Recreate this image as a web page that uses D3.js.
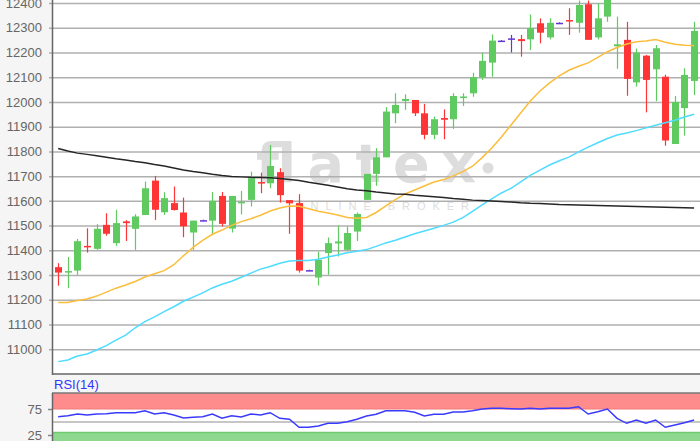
<!DOCTYPE html>
<meta charset="utf-8">
<style>
body { margin: 0; background: #f5f5f5; font: 13px Arial, "Liberation Sans", sans-serif; }
.grid line { stroke: #b0b0b0; stroke-width: 1.5; }
.grid path { display: none; }
.grid text, .rsiaxis text { fill: #666; font-size: 13px; font-family: Arial, "Liberation Sans", sans-serif; }
.rsiaxis line { stroke: #888; stroke-width: 1.5; }
.rsiaxis path { display: none; }
.ma { fill: none; stroke-width: 1.5; }
</style>
<body>
<script src="https://cdn.jsdelivr.net/npm/d3@7"></script>
<script>
// candle values, one per trading day
var opens  = [11332,11312,11318,11418,11406,11503,11429,11517,11487,11543,11682,11554,11591,11553,11472,11522,11520,11620,11488,11590,
              11604,11676,11671,11716,11603,11591,11320,11290,11389,11428,11402,11476,11604,11709,11776,11954,12004,12008,11954,11867,
              11935,11930,12017,12035,12100,12159,12248,12257,12254,12253,12318,12261,12320,12331,12320,12395,12261,12345,12225,12251,
              12079,12187,12132,12102,11830,11975,12085];
var highs  = [11348,11373,11446,11489,11506,11550,11564,11522,11546,11678,11701,11635,11658,11613,11520,11524,11636,11636,11620,11640,
              11718,11714,11826,11732,11603,11627,11322,11395,11452,11500,11496,11553,11709,11813,11979,12035,12031,12008,11992,11941,
              11970,12035,12035,12118,12199,12273,12250,12271,12271,12354,12338,12338,12322,12379,12410,12410,12400,12440,12345,12324,
              12216,12190,12230,12110,12024,12136,12324];
var lows   = [11257,11247,11301,11391,11402,11459,11418,11438,11402,11543,11523,11543,11561,11453,11402,11520,11461,11496,11472,11545,
              11577,11631,11651,11593,11467,11310,11318,11258,11301,11375,11398,11438,11604,11661,11776,11914,11968,11943,11849,11849,
              11849,11891,11984,12021,12089,12102,12246,12200,12183,12210,12237,12253,12318,12271,12280,12251,12253,12324,12134,12025,
              12062,11958,12003,11823,11830,11864,12028];
var closes = [11310,11316,11437,11412,11487,11467,11510,11510,11537,11651,11564,11611,11563,11497,11520,11522,11600,11507,11620,11596,
              11692,11672,11741,11623,11590,11318,11320,11362,11429,11436,11470,11547,11709,11776,11961,11988,12012,11954,11867,11930,
              11928,12024,12022,12100,12166,12248,12248,12257,12246,12298,12280,12320,12320,12325,12392,12251,12338,12430,12233,12093,
              12200,12089,12217,11844,12000,12109,12287];

// moving averages (orange, light blue, black)
var maShort = [11189,11189,11197,11203,11215,11231,11247,11260,11274,11292,11305,11318,11342,11378,11412,11440,11465,11482,11501,11516,
               11528,11542,11559,11571,11579,11578,11568,11558,11551,11543,11533,11530,11533,11553,11580,11605,11628,11644,11660,11676,
               11686,11701,11718,11740,11775,11814,11858,11907,11955,12004,12044,12077,12105,12128,12144,12158,12180,12203,12220,12234,
               12243,12246,12252,12241,12233,12229,12228];
var maMid   = [10950,10957,10973,10981,10997,11015,11037,11057,11087,11112,11131,11152,11172,11194,11211,11228,11248,11263,11275,11291,
               11308,11324,11335,11348,11357,11359,11359,11364,11373,11381,11390,11396,11403,11416,11430,11441,11454,11467,11478,11489,
               11501,11514,11532,11558,11584,11608,11632,11651,11677,11703,11724,11745,11762,11777,11798,11817,11835,11852,11866,11874,
               11884,11895,11906,11916,11926,11939,11950];
var maLong  = [11812,11802,11793,11788,11782,11776,11770,11765,11759,11754,11747,11741,11733,11725,11719,11714,11708,11703,11699,11697,
               11695,11694,11693,11690,11686,11682,11675,11669,11663,11656,11649,11644,11641,11636,11632,11628,11627,11623,11620,11617,
               11614,11610,11607,11603,11601,11599,11597,11595,11592,11590,11589,11587,11585,11584,11583,11582,11581,11580,11579,11578,
               11577,11576,11575,11574,11573,11572,11571];

// RSI(14)
var rsi = [60.2,62.1,65.4,63.5,65.4,66,67.9,67.9,67.9,71.7,65.4,67.9,63.5,57.7,59,60.2,65.4,57.1,62.1,59.6,
           65.4,63.5,67.9,57.1,55.2,39.8,39.8,42.3,47.5,47.5,50.6,55.2,61.5,64.8,71.7,71.7,71.7,68.7,61.5,64.8,
           64.8,69.2,69.2,71.7,75,76.3,76.3,75.6,75,76.3,75,76.3,76.3,76.3,79.4,65.4,69.8,75,57.1,47.5,
           53.8,47.5,53.8,39.8,44.2,48.7,53.8];

var priceTicks = [11000,11100,11200,11300,11400,11500,11600,11700,11800,11900,12000,12100,12200,12300,12400];
var rsiTicks = [75, 25];
var rsiMid = 50, rsiHigh = 75, rsiLow = 30;

// layout
var W = 700, H = 441;
var left = 53, right = 700, mainTop = 0, mainBottom = 374;
var rsiTop = 393, rsiBottom = 441;

var svg = d3.select("body").append("svg")
    .attr("width", W)
    .attr("height", H)
    .style("display", "block");

svg.append("defs").append("clipPath").attr("id", "mainclip")
  .append("rect").attr("x", left).attr("y", mainTop)
    .attr("width", right - left).attr("height", mainBottom - mainTop);

// scales
var idx = d3.range(opens.length);
var x = d3.scaleBand().domain(idx).range([52, 700.3]).padding(0.28);
var cx = function(i) { return x(i) + x.bandwidth() / 2; };
var y = d3.scaleLinear().domain([10900, 12400]).range([mainBottom, 3]);
var ry = d3.scaleLinear().domain([25, 75]).range([435, 409]);

// panel backgrounds
svg.append("rect").attr("x", left).attr("y", mainTop)
    .attr("width", right - left).attr("height", mainBottom - mainTop).attr("fill", "#fff");
svg.append("rect").attr("x", left).attr("y", rsiTop)
    .attr("width", right - left).attr("height", rsiBottom - rsiTop).attr("fill", "#fff");

// watermark
var wm = svg.append("g").attr("fill", "#dddddd");
wm.append("text")
    .attr("x", 256).attr("y", 182)
    .attr("textLength", 220).attr("lengthAdjust", "spacing")
    .style("font-family", "'DejaVu Sans', sans-serif")
    .style("font-weight", "bold")
    .style("font-size", "54px")
    .text("flatex");
wm.append("circle").attr("cx", 488).attr("cy", 168).attr("r", 5.5);
wm.append("text")
    .attr("x", 295).attr("y", 210)
    .attr("textLength", 174).attr("lengthAdjust", "spacing")
    .style("font-family", "Arial, sans-serif")
    .style("font-size", "11px")
    .text("ONLINE BROKER");

// gridlines + price labels
svg.append("g")
    .attr("class", "grid")
    .attr("transform", "translate(49,0)")
    .call(d3.axisLeft(y).tickValues(priceTicks).tickSize(-(right - 49)).tickPadding(7).tickFormat(d3.format("d")));

// candles
var plot = svg.append("g").attr("clip-path", "url(#mainclip)");
var colorOf = function(i) {
  if (closes[i] > opens[i]) return "#5fca5f";
  if (closes[i] < opens[i]) return "#ff3535";
  return "#6236d6";
};
var candle = plot.selectAll(".candle")
    .data(idx)
  .enter().append("g")
    .attr("class", "candle");
candle.append("line")
    .attr("x1", function(i) { return Math.round(cx(i)) + 0.5; })
    .attr("x2", function(i) { return Math.round(cx(i)) + 0.5; })
    .attr("y1", function(i) { return y(highs[i]); })
    .attr("y2", function(i) { return y(lows[i]); })
    .attr("stroke", colorOf)
    .attr("stroke-width", 1.2);
candle.append("rect")
    .attr("x", function(i) { return Math.round(cx(i)) + 0.5 - 3.5; })
    .attr("width", 7)
    .attr("y", function(i) { return y(Math.max(opens[i], closes[i])); })
    .attr("height", function(i) { return Math.max(1.5, Math.abs(y(opens[i]) - y(closes[i]))); })
    .attr("fill", colorOf);

// moving averages
var maLine = function(arr) {
  return d3.line().x(function(d, i) { return cx(i); }).y(function(d) { return y(d); })(arr);
};
plot.append("path").attr("class", "ma").attr("stroke", "#fbbd3c").attr("d", maLine(maShort));
plot.append("path").attr("class", "ma").attr("stroke", "#4ddcff").attr("d", maLine(maMid));
plot.append("path").attr("class", "ma").attr("stroke", "#262626").attr("d", maLine(maLong));

// frame of the price panel
svg.append("line").attr("x1", 52.5).attr("x2", 52.5).attr("y1", 0).attr("y2", mainBottom + 1)
    .attr("stroke", "#666").attr("stroke-width", 1.5);
svg.append("line").attr("x1", 52).attr("x2", right).attr("y1", mainBottom).attr("y2", mainBottom)
    .attr("stroke", "#666").attr("stroke-width", 1.5);

// RSI panel
svg.append("rect").attr("x", left).attr("y", rsiTop)
    .attr("width", right - left).attr("height", ry(rsiHigh) - rsiTop).attr("fill", "#ff8c8c");
svg.append("line").attr("x1", left).attr("x2", right).attr("y1", ry(rsiHigh)).attr("y2", ry(rsiHigh))
    .attr("stroke", "#f07a7a").attr("stroke-width", 1);
svg.append("rect").attr("x", left).attr("y", ry(rsiLow))
    .attr("width", right - left).attr("height", rsiBottom - ry(rsiLow)).attr("fill", "#8fd88f");
svg.append("line").attr("x1", left).attr("x2", right).attr("y1", ry(rsiLow)).attr("y2", ry(rsiLow))
    .attr("stroke", "#70c870").attr("stroke-width", 1.5);
svg.append("line").attr("x1", left).attr("x2", right).attr("y1", ry(rsiMid)).attr("y2", ry(rsiMid))
    .attr("stroke", "#b3b3b3").attr("stroke-width", 1.5);

svg.append("path")
    .attr("fill", "none")
    .attr("stroke", "#3a3aff")
    .attr("stroke-width", 1.5)
    .attr("d", d3.line().x(function(d, i) { return cx(i); }).y(function(d) { return ry(d); })(rsi));

svg.append("g")
    .attr("class", "rsiaxis")
    .attr("transform", "translate(52,0)")
    .call(d3.axisLeft(ry).tickValues(rsiTicks).tickSize(4).tickPadding(6));

svg.append("line").attr("x1", 52).attr("x2", right).attr("y1", rsiTop).attr("y2", rsiTop)
    .attr("stroke", "#777").attr("stroke-width", 1.5);
svg.append("line").attr("x1", 52.5).attr("x2", 52.5).attr("y1", rsiTop).attr("y2", rsiBottom)
    .attr("stroke", "#666").attr("stroke-width", 1.5);

svg.append("text")
    .attr("x", 54).attr("y", 389)
    .attr("fill", "#3333ff")
    .style("font-size", "13px")
    .text("RSI(14)");
</script>
</body>
